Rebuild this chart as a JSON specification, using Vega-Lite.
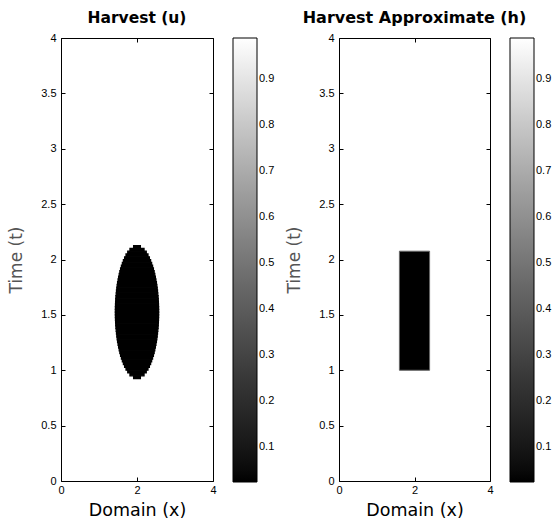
{
  "$schema": "https://vega.github.io/schema/vega-lite/v6.json",
  "background": "white",
  "padding": {"left": 7, "top": 10, "right": 5, "bottom": 5},
  "datasets": {
    "u": [
      {"x1":0,"x2":4,"t1":0,"t2":4,"v":1},
      {"x1":1.91,"x2":2.09,"t1":0.925,"t2":0.95,"v":0},
      {"x1":1.814,"x2":2.186,"t1":0.95,"t2":0.975,"v":0},
      {"x1":1.756,"x2":2.244,"t1":0.975,"t2":1.0,"v":0},
      {"x1":1.71,"x2":2.29,"t1":1.0,"t2":1.025,"v":0},
      {"x1":1.673,"x2":2.327,"t1":1.025,"t2":1.05,"v":0},
      {"x1":1.641,"x2":2.359,"t1":1.05,"t2":1.075,"v":0},
      {"x1":1.614,"x2":2.386,"t1":1.075,"t2":1.1,"v":0},
      {"x1":1.589,"x2":2.411,"t1":1.1,"t2":1.125,"v":0},
      {"x1":1.567,"x2":2.433,"t1":1.125,"t2":1.15,"v":0},
      {"x1":1.548,"x2":2.452,"t1":1.15,"t2":1.175,"v":0},
      {"x1":1.531,"x2":2.469,"t1":1.175,"t2":1.2,"v":0},
      {"x1":1.515,"x2":2.485,"t1":1.2,"t2":1.225,"v":0},
      {"x1":1.501,"x2":2.499,"t1":1.225,"t2":1.25,"v":0},
      {"x1":1.488,"x2":2.512,"t1":1.25,"t2":1.275,"v":0},
      {"x1":1.477,"x2":2.523,"t1":1.275,"t2":1.3,"v":0},
      {"x1":1.468,"x2":2.532,"t1":1.3,"t2":1.325,"v":0},
      {"x1":1.459,"x2":2.541,"t1":1.325,"t2":1.35,"v":0},
      {"x1":1.452,"x2":2.548,"t1":1.35,"t2":1.375,"v":0},
      {"x1":1.445,"x2":2.555,"t1":1.375,"t2":1.4,"v":0},
      {"x1":1.44,"x2":2.56,"t1":1.4,"t2":1.425,"v":0},
      {"x1":1.436,"x2":2.564,"t1":1.425,"t2":1.45,"v":0},
      {"x1":1.433,"x2":2.567,"t1":1.45,"t2":1.475,"v":0},
      {"x1":1.431,"x2":2.569,"t1":1.475,"t2":1.5,"v":0},
      {"x1":1.43,"x2":2.57,"t1":1.5,"t2":1.525,"v":0},
      {"x1":1.43,"x2":2.57,"t1":1.525,"t2":1.55,"v":0},
      {"x1":1.431,"x2":2.569,"t1":1.55,"t2":1.575,"v":0},
      {"x1":1.433,"x2":2.567,"t1":1.575,"t2":1.6,"v":0},
      {"x1":1.436,"x2":2.564,"t1":1.6,"t2":1.625,"v":0},
      {"x1":1.44,"x2":2.56,"t1":1.625,"t2":1.65,"v":0},
      {"x1":1.445,"x2":2.555,"t1":1.65,"t2":1.675,"v":0},
      {"x1":1.452,"x2":2.548,"t1":1.675,"t2":1.7,"v":0},
      {"x1":1.459,"x2":2.541,"t1":1.7,"t2":1.725,"v":0},
      {"x1":1.468,"x2":2.532,"t1":1.725,"t2":1.75,"v":0},
      {"x1":1.477,"x2":2.523,"t1":1.75,"t2":1.775,"v":0},
      {"x1":1.488,"x2":2.512,"t1":1.775,"t2":1.8,"v":0},
      {"x1":1.501,"x2":2.499,"t1":1.8,"t2":1.825,"v":0},
      {"x1":1.515,"x2":2.485,"t1":1.825,"t2":1.85,"v":0},
      {"x1":1.531,"x2":2.469,"t1":1.85,"t2":1.875,"v":0},
      {"x1":1.548,"x2":2.452,"t1":1.875,"t2":1.9,"v":0},
      {"x1":1.567,"x2":2.433,"t1":1.9,"t2":1.925,"v":0},
      {"x1":1.589,"x2":2.411,"t1":1.925,"t2":1.95,"v":0},
      {"x1":1.614,"x2":2.386,"t1":1.95,"t2":1.975,"v":0},
      {"x1":1.641,"x2":2.359,"t1":1.975,"t2":2.0,"v":0},
      {"x1":1.673,"x2":2.327,"t1":2.0,"t2":2.025,"v":0},
      {"x1":1.71,"x2":2.29,"t1":2.025,"t2":2.05,"v":0},
      {"x1":1.756,"x2":2.244,"t1":2.05,"t2":2.075,"v":0},
      {"x1":1.814,"x2":2.186,"t1":2.075,"t2":2.1,"v":0},
      {"x1":1.91,"x2":2.09,"t1":2.1,"t2":2.125,"v":0}
    ],
    "h": [
      {"x1":0,"x2":4,"t1":0,"t2":4,"v":1},
      {"x1":1.6,"x2":2.4,"t1":1.0,"t2":2.075,"v":0}
    ]
  },
  "hconcat": [
    {
      "width": 152,
      "height": 443,
      "title": {"text": "Harvest (u)", "fontSize": 15.5, "frame": "group"},
      "data": {"name": "u"},
      "layer": [
        {
          "transform": [{"filter": "datum.v > 0.5"}],
          "mark": {"type": "rect"},
          "encoding": {
            "x": {"field": "x1", "type": "quantitative", "scale": {"domain": [0, 4], "nice": false, "zero": false},
              "axis": {"orient": "bottom", "values": [0, 2, 4], "title": "Domain (x)", "labelExpr": "'' + datum.value", "zindex": 2}},
            "x2": {"field": "x2"},
            "y": {"field": "t1", "type": "quantitative", "scale": {"domain": [0, 4], "nice": false, "zero": false},
              "axis": {"orient": "left", "values": [0, 0.5, 1, 1.5, 2, 2.5, 3, 3.5, 4], "title": "Time (t)", "labelExpr": "'' + datum.value", "titleColor": "#555555", "titleFontSize": 17, "titlePadding": 15, "labelPadding": 9, "zindex": 2}},
            "y2": {"field": "t2"},
            "color": {"field": "v", "type": "quantitative",
              "scale": {"domain": [0.023, 0.99], "range": ["#000000", "#ffffff"], "clamp": true},
              "legend": {"values": [0.1, 0.2, 0.3, 0.4, 0.5, 0.6, 0.7, 0.8, 0.9], "format": ".1f"}}
          }
        },
        {
          "transform": [{"filter": "datum.v <= 0.5"}],
          "mark": {"type": "rect", "stroke": "#000000", "strokeWidth": 1.2},
          "encoding": {
            "x": {"field": "x1", "type": "quantitative",
              "axis": {"orient": "top", "values": [0, 2, 4], "labels": false, "title": null, "zindex": 2}},
            "x2": {"field": "x2"},
            "y": {"field": "t1", "type": "quantitative",
              "axis": {"orient": "right", "values": [0, 0.5, 1, 1.5, 2, 2.5, 3, 3.5, 4], "labels": false, "title": null, "zindex": 2}},
            "y2": {"field": "t2"},
            "color": {"field": "v", "type": "quantitative"}
          }
        }
      ],
      "resolve": {"axis": {"x": "independent", "y": "independent"}}
    },
    {
      "width": 151,
      "height": 443,
      "title": {"text": "Harvest Approximate (h)", "fontSize": 16, "frame": "group"},
      "data": {"name": "h"},
      "layer": [
        {
          "transform": [{"filter": "datum.v > 0.5"}],
          "mark": {"type": "rect"},
          "encoding": {
            "x": {"field": "x1", "type": "quantitative", "scale": {"domain": [0, 4], "nice": false, "zero": false},
              "axis": {"orient": "bottom", "values": [0, 2, 4], "title": "Domain (x)", "labelExpr": "'' + datum.value", "zindex": 2}},
            "x2": {"field": "x2"},
            "y": {"field": "t1", "type": "quantitative", "scale": {"domain": [0, 4], "nice": false, "zero": false},
              "axis": {"orient": "left", "values": [0, 0.5, 1, 1.5, 2, 2.5, 3, 3.5, 4], "title": "Time (t)", "labelExpr": "'' + datum.value", "titleColor": "#555555", "titleFontSize": 17, "titlePadding": 15, "labelPadding": 9, "zindex": 2}},
            "y2": {"field": "t2"},
            "color": {"field": "v", "type": "quantitative",
              "scale": {"domain": [0.023, 0.99], "range": ["#000000", "#ffffff"], "clamp": true},
              "legend": {"values": [0.1, 0.2, 0.3, 0.4, 0.5, 0.6, 0.7, 0.8, 0.9], "format": ".1f"}}
          }
        },
        {
          "transform": [{"filter": "datum.v <= 0.5"}],
          "mark": {"type": "rect", "stroke": "#666666", "strokeWidth": 1},
          "encoding": {
            "x": {"field": "x1", "type": "quantitative",
              "axis": {"orient": "top", "values": [0, 2, 4], "labels": false, "title": null, "zindex": 2}},
            "x2": {"field": "x2"},
            "y": {"field": "t1", "type": "quantitative",
              "axis": {"orient": "right", "values": [0, 0.5, 1, 1.5, 2, 2.5, 3, 3.5, 4], "labels": false, "title": null, "zindex": 2}},
            "y2": {"field": "t2"},
            "color": {"field": "v", "type": "quantitative"}
          }
        }
      ],
      "resolve": {"axis": {"x": "independent", "y": "independent"}}
    }
  ],
  "spacing": 10,
  "resolve": {"scale": {"color": "independent"}, "legend": {"color": "independent"}},
  "config": {
    "font": "Liberation Sans",
    "view": {"stroke": null},
    "title": {"font": "DejaVu Sans", "fontSize": 15, "fontWeight": "bold", "color": "#000000", "offset": 6, "anchor": "middle"},
    "axis": {
      "grid": false,
      "zindex": 2,
      "domainColor": "#000000",
      "domainWidth": 1,
      "tickColor": "#000000",
      "tickSize": -4,
      "labelFont": "Liberation Sans",
      "labelFontSize": 11,
      "labelColor": "#000000",
      "labelPadding": 7,
      "labelFlush": false,
      "labelOverlap": false,
      "titleFont": "DejaVu Sans",
      "titleFontSize": 17.5,
      "titleFontWeight": "normal",
      "titleColor": "#000000",
      "titlePadding": 6
    },
    "legend": {
      "orient": "right",
      "offset": 19,
      "padding": 0,
      "title": null,
      "direction": "vertical",
      "gradientLength": 444,
      "gradientThickness": 24,
      "gradientStrokeColor": "#000000",
      "gradientStrokeWidth": 1,
      "labelFont": "Liberation Sans",
      "labelFontSize": 11,
      "labelColor": "#000000",
      "labelOffset": 4,
      "labelOverlap": false
    }
  }
}
